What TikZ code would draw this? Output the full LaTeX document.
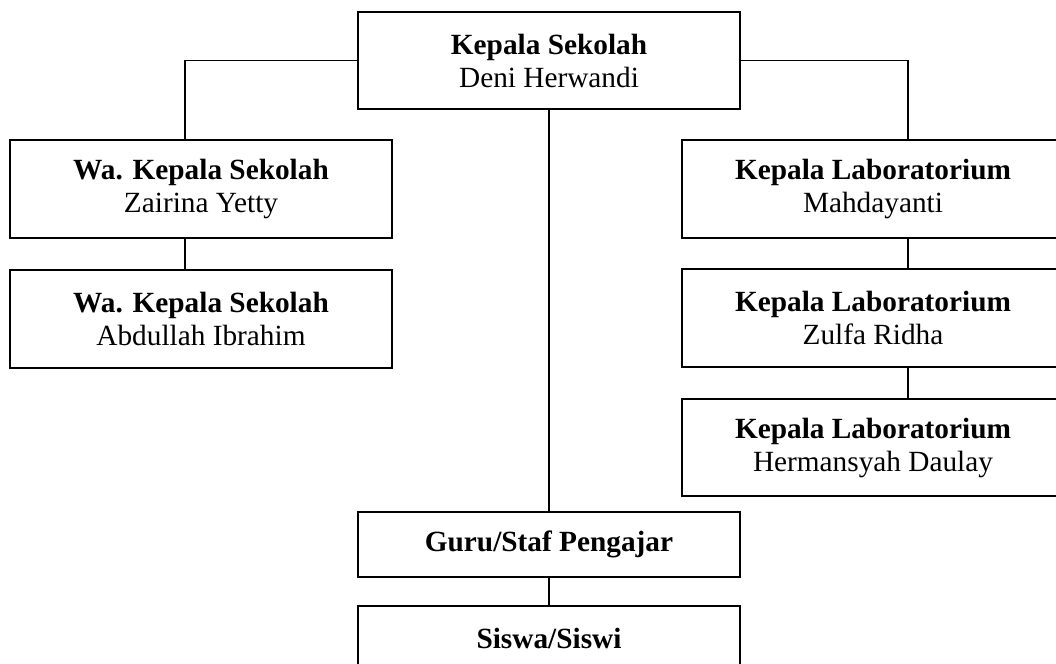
\documentclass[tikz,border=0pt]{standalone}
\usepackage{fontspec}
\setmainfont{Liberation Serif}
\usepackage{tikz}
\usetikzlibrary{positioning}

\begin{document}
\begin{tikzpicture}[x=0.5pt,y=-0.5pt,
  jabatan/.style={draw,line width=1pt,minimum width=191pt,inner sep=0pt,align=center,
    font=\fontsize{14.65}{16.5}\selectfont},
  garis/.style={line width=0.8pt}]
\useasboundingbox (0,0) rectangle (1056,664);
\clip (0,0) rectangle (1056,664);

% Kepala sekolah
\node[jabatan,minimum height=48.5pt] (kepsek) at (549,60.5) {\textbf{Kepala Sekolah}\\Deni Herwandi};

% Wakil kepala sekolah
\node[jabatan,minimum height=49pt] (wakil1) at (201,188.5) {\textbf{Wa. Kepala Sekolah}\\Zairina Yetty};
\node[jabatan,minimum height=49pt,below=15pt of wakil1] (wakil2) {\textbf{Wa. Kepala Sekolah}\\Abdullah Ibrahim};

% Kepala laboratorium
\node[jabatan,minimum height=49pt] (lab1) at (873,189) {\textbf{Kepala Laboratorium}\\Mahdayanti};
\node[jabatan,minimum height=49pt,below=14.5pt of lab1] (lab2) {\textbf{Kepala Laboratorium}\\Zulfa Ridha};
\node[jabatan,minimum height=48.5pt,below=15pt of lab2] (lab3) {\textbf{Kepala Laboratorium}\\Hermansyah Daulay};

% Guru dan siswa
\node[jabatan,minimum height=32.5pt] (guru) at (549,544.5) {\textbf{Guru/Staf Pengajar}};
\node[jabatan,minimum height=32.5pt,below=13.5pt of guru] (siswa) {\textbf{Siswa/Siswi}};

% Garis komando
\draw[garis] (kepsek.west) -| ([xshift=-8pt]wakil1.north);
\draw[garis] (kepsek.east) -| ([xshift=17.5pt]lab1.north);
\draw[garis] (kepsek.south) -- (guru.north);
\draw[garis] ([xshift=-8pt]wakil1.south) -- ([xshift=-8pt]wakil2.north);
\draw[garis] ([xshift=17.5pt]lab1.south) -- ([xshift=17.5pt]lab2.north);
\draw[garis] ([xshift=17.5pt]lab2.south) -- ([xshift=17.5pt]lab3.north);
\draw[garis] (guru.south) -- (siswa.north);
\end{tikzpicture}
\end{document}
